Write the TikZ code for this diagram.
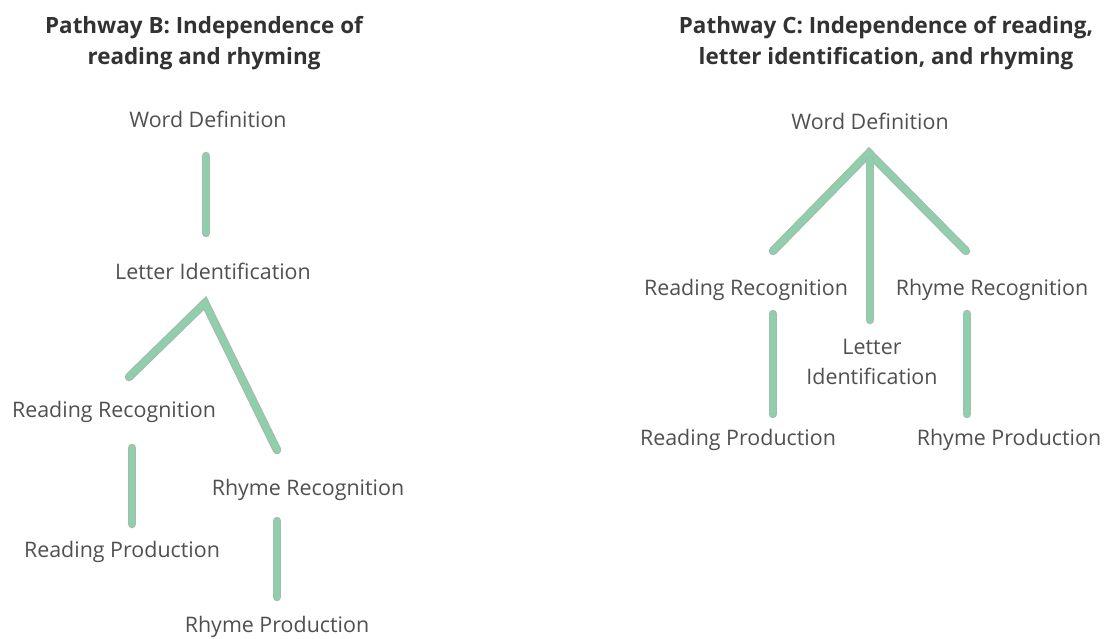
\documentclass[tikz,border=0pt]{standalone}
\usepackage{fontspec}
\setmainfont{Open Sans}
\definecolor{barfill}{RGB}{140,208,172}
\definecolor{baredge}{RGB}{170,186,172}
\definecolor{labeltext}{RGB}{80,80,80}
\definecolor{titletext}{RGB}{50,50,50}
\tikzset{
  lbl/.style={font=\fontsize{21.5}{25}\selectfont, text=labeltext, inner sep=0pt},
  ttl/.style={font=\fontsize{22.5}{25}\selectfont\bfseries, text=titletext, inner sep=0pt, anchor=base},
  bar/.style={preaction={draw=baredge, line width=8.5bp, line cap=round, line join=miter},
              draw=barfill, line width=6bp, line cap=round, line join=miter},
}
\begin{document}
\begin{tikzpicture}[x=1bp,y=-1bp]
\useasboundingbox (0,0) rectangle (1104,639);
\fill[white] (0,0) rectangle (1104,639);

% ---- Pathway B ----
\node[ttl] (tB1) at (204,34) {Pathway B: Independence of};
\node[ttl] (tB2) at (204,65) {reading and rhyming};
\node[lbl] (wdB) at (208,119) {Word Definition};
\node[lbl] (liB) at (213,271) {Letter Identification};
\node[lbl] (rrB) at (114,412) {Reading Recognition};
\node[lbl] (rpB) at (122,552) {Reading Production};
\node[lbl] (hrB) at (308,490) {Rhyme Recognition};
\node[lbl] (hpB) at (277,627) {Rhyme Production};

\coordinate (b1t) at (206,156);
\coordinate (b1b) at (206,233);
\coordinate (bApex) at (205,303);
\coordinate (bL) at (129,377);
\coordinate (bR) at (277,450);
\coordinate (b2t) at (132,448);
\coordinate (b2b) at (132,524);
\coordinate (b3t) at (277,521);
\coordinate (b3b) at (277,597);

\draw[bar] (b1t) -- (b1b);
\draw[bar] (bL) -- (bApex) -- (bR);
\draw[bar] (b2t) -- (b2b);
\draw[bar] (b3t) -- (b3b);

% ---- Pathway C ----
\node[ttl] (tC1) at (886,34) {Pathway C: Independence of reading,};
\node[ttl] (tC2) at (886,65) {letter identification, and rhyming};
\node[lbl] (wdC) at (870,121) {Word Definition};
\node[lbl] (rrC) at (746,290) {Reading Recognition};
\node[lbl] (hrC) at (992,290) {Rhyme Recognition};
\node[lbl, align=center, font=\fontsize{21.5}{30}\selectfont] (liC) at (872,362) {Letter\\Identification};
\node[lbl] (rpC) at (738,440) {Reading Production};
\node[lbl] (hpC) at (1009,440) {Rhyme Production};

\coordinate (cApex) at (869,153);
\coordinate (cTop) at (870,160);
\coordinate (cL) at (773,251);
\coordinate (cR) at (966,251);
\coordinate (cM) at (870,320);
\coordinate (c1t) at (773,314);
\coordinate (c1b) at (773,414);
\coordinate (c2t) at (967,314);
\coordinate (c2b) at (967,414);

\draw[bar] (cL) -- (cApex) -- (cR);
\draw[bar] (cTop) -- (cM);
\draw[bar] (c1t) -- (c1b);
\draw[bar] (c2t) -- (c2b);
\end{tikzpicture}
\end{document}
